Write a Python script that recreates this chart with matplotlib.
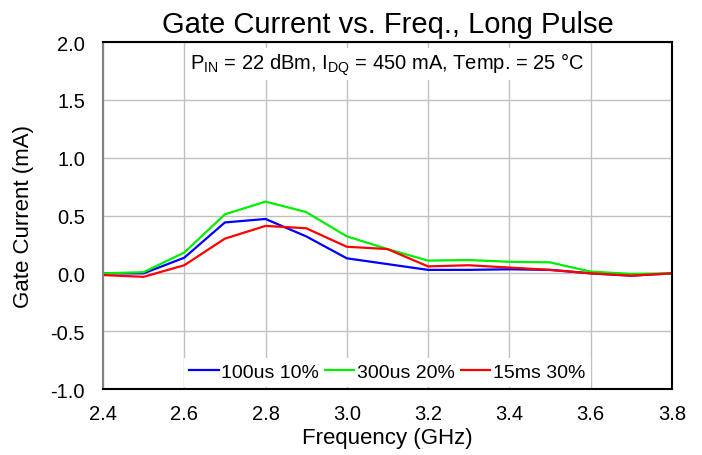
import numpy as np
import matplotlib
matplotlib.use('Agg')
import matplotlib.pyplot as plt

plt.rcParams['font.family'] = ['Liberation Sans', 'DejaVu Sans']
plt.rcParams['mathtext.fontset'] = 'custom'
plt.rcParams['mathtext.rm'] = 'Liberation Sans'

freq = [2.4, 2.5, 2.6, 2.7, 2.8, 2.9, 3.0, 3.1, 3.2, 3.3, 3.4, 3.5, 3.6, 3.7, 3.8]
i_100us = [0.0, 0.0, 0.135, 0.44, 0.47, 0.32, 0.13, 0.08, 0.03, 0.03, 0.035, 0.03, 0.0, -0.02, 0.0]
i_300us = [0.0, 0.01, 0.18, 0.51, 0.62, 0.53, 0.32, 0.21, 0.11, 0.115, 0.10, 0.095, 0.015, -0.005, 0.0]
i_15ms = [-0.015, -0.03, 0.07, 0.30, 0.41, 0.39, 0.23, 0.21, 0.06, 0.07, 0.05, 0.03, 0.0, -0.02, 0.0]
labels = ['100us 10%', '300us 20%', '15ms 30%']

fig = plt.figure(figsize=(7.02, 4.56), dpi=100)
ax = fig.add_axes([0.1467, 0.1447, 0.957 - 0.1467, 0.9057 - 0.1447])

ax.plot(freq, i_100us, color='#0000ff', lw=1.6, label=labels[0])
ax.plot(freq, i_300us, color='#00ee00', lw=1.6, label=labels[1])
ax.plot(freq, i_15ms, color='#ff0000', lw=1.6, label=labels[2])

ax.set_xlim(2.4, 3.8)
ax.set_ylim(-1.0, 2.0)
ax.set_xticks(np.arange(2.4, 3.81, 0.2))
ax.set_yticks(np.arange(-1.0, 2.01, 0.5))
ax.xaxis.set_major_formatter(matplotlib.ticker.FormatStrFormatter('%.1f'))
ax.yaxis.set_major_formatter(matplotlib.ticker.FormatStrFormatter('%.1f'))
ax.tick_params(length=0, labelsize=14.5)
ax.tick_params(axis='x', pad=11)
ax.tick_params(axis='y', pad=13)
ax.grid(True, color='#c0c0c0', lw=1)
ax.set_axisbelow(True)

for s in ['top', 'right', 'bottom']:
    ax.spines[s].set_color('black')
    ax.spines[s].set_linewidth(1.5)
ax.spines['left'].set_color('#808080')
ax.spines['left'].set_linewidth(1.5)

ax.set_xlabel('Frequency (GHz)', fontsize=16, labelpad=3)
ax.set_ylabel('Gate Current (mA)', fontsize=16, labelpad=12)
ax.set_title('Gate Current vs. Freq., Long Pulse', fontsize=21, pad=7)

ax.text(0.5, 0.975, r'P$_{\mathrm{IN}}$ = 22 dBm, I$_{\mathrm{DQ}}$ = 450 mA, Temp. = 25 °C',
        transform=ax.transAxes, ha='center', va='top', fontsize=14.5,
        bbox=dict(facecolor='white', edgecolor='none', pad=2))

leg = ax.legend(loc='lower center', ncol=3, fontsize=14, frameon=True,
                handlelength=1.5, handletextpad=0.15, columnspacing=0.3,
                borderaxespad=0.1, fancybox=False, borderpad=0.3)
leg.get_frame().set_edgecolor('none')
leg.get_frame().set_facecolor('white')
leg.get_frame().set_alpha(1)

fig.savefig('out.png', dpi=100)
